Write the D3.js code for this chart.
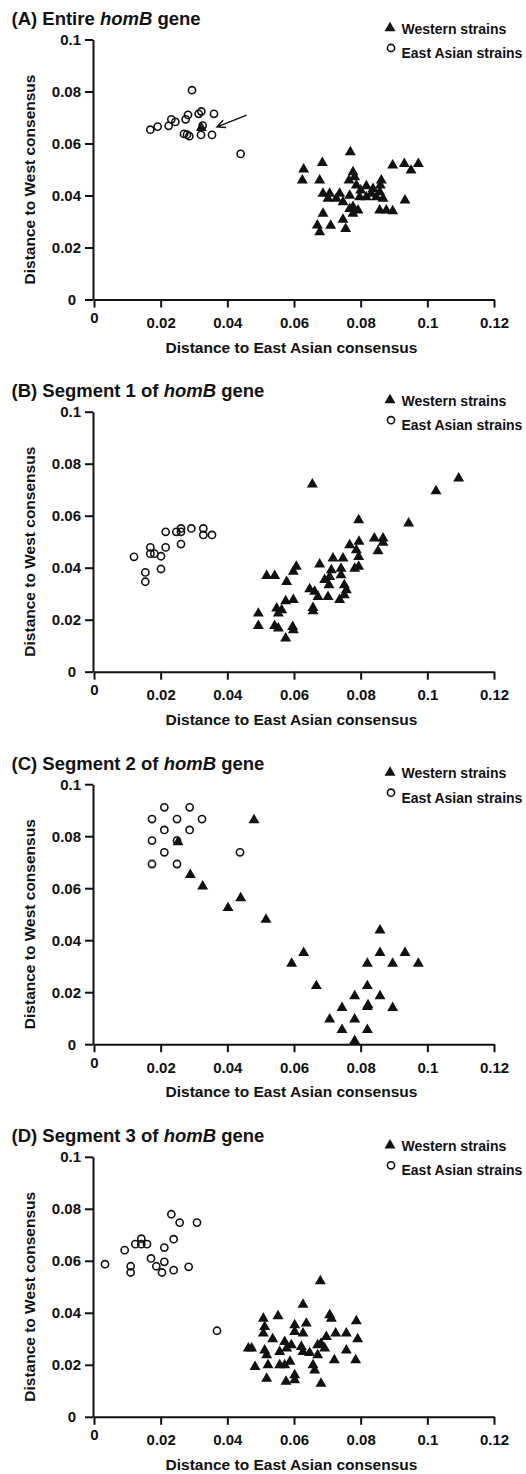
<!DOCTYPE html>
<html>
<head>
<meta charset="utf-8">
<script src="https://cdn.jsdelivr.net/npm/d3@7"></script>
<style>
  body { margin: 0; background: #fff; }
  svg { display: block; font-family: "Liberation Sans", Arial, sans-serif; }
</style>
</head>
<body>
<svg id="chart" width="526" height="1474"></svg>
<script>
// ---- data ----
const xTicks = [0, 0.02, 0.04, 0.06, 0.08, 0.1, 0.12];
const yTicks = [0, 0.02, 0.04, 0.06, 0.08, 0.1];
const panelLetters = ["(A)", "(B)", "(C)", "(D)"];
const panelTitles = ["Entire ", "Segment 1 of ", "Segment 2 of ", "Segment 3 of "];
const geneName = "homB";
const geneSuffix = " gene";
const legendLabels = ["Western strains", "East Asian strains"];
const xTitle = "Distance to East Asian consensus";
const yTitle = "Distance to West consensus";

// (A) entire gene
const eastA = [[0.0169,0.0653],[0.0191,0.0665],[0.0224,0.0668],[0.0232,0.0693],[0.0244,0.0683],
  [0.0275,0.0693],[0.0282,0.0710],[0.0294,0.0805],[0.0314,0.0714],[0.0322,0.0723],[0.0360,0.0714],
  [0.0270,0.0637],[0.0279,0.0634],[0.0286,0.0628],[0.0321,0.0633],[0.0326,0.0669],[0.0354,0.0633],
  [0.0440,0.0560]];
const westA = [[0.0322,0.0660],[0.0629,0.0501],[0.0625,0.0458],[0.0685,0.0526],[0.0677,0.0458],
  [0.0769,0.0567],[0.0777,0.0490],[0.0782,0.0471],[0.0765,0.0458],[0.0787,0.0439],[0.0817,0.0436],
  [0.0837,0.0426],[0.0857,0.0413],[0.0862,0.0458],[0.0859,0.0439],[0.0896,0.0516],[0.0931,0.0522],
  [0.0951,0.0497],[0.0973,0.0522],[0.0933,0.0381],[0.0687,0.0407],[0.0707,0.0407],[0.0702,0.0388],
  [0.0727,0.0388],[0.0737,0.0407],[0.0747,0.0375],[0.0767,0.0400],[0.0777,0.0356],[0.0777,0.0330],
  [0.0792,0.0343],[0.0797,0.0394],[0.0817,0.0394],[0.0847,0.0394],[0.0867,0.0388],[0.0857,0.0343],
  [0.0877,0.0343],[0.0896,0.0340],[0.0767,0.0349],[0.0687,0.0330],[0.0670,0.0285],[0.0677,0.0259],
  [0.0710,0.0284],[0.0747,0.0307],[0.0755,0.0272],[0.0832,0.0407],[0.0800,0.0420]];
const arrowA = [[0.0458,0.0709],[0.0369,0.0664]];

// (B) segment 1
const eastB = [[0.0120,0.0442],[0.0154,0.0382],[0.0154,0.0346],[0.0169,0.0478],[0.0169,0.0454],
  [0.0181,0.0454],[0.0201,0.0444],[0.0201,0.0395],[0.0215,0.0478],[0.0215,0.0538],[0.0247,0.0538],
  [0.0261,0.0551],[0.0261,0.0538],[0.0261,0.0491],[0.0292,0.0551],[0.0328,0.0551],[0.0328,0.0526],
  [0.0354,0.0526]];
const westB = [[0.0655,0.0721],[0.1094,0.0744],[0.1026,0.0695],[0.0944,0.0571],[0.0794,0.0583],
  [0.0841,0.0513],[0.0867,0.0513],[0.0867,0.0497],[0.0852,0.0464],[0.0795,0.0500],[0.0767,0.0487],
  [0.0787,0.0468],[0.0794,0.0442],[0.0794,0.0404],[0.0782,0.0397],[0.0747,0.0436],[0.0717,0.0436],
  [0.0677,0.0413],[0.0741,0.0397],[0.0712,0.0391],[0.0741,0.0372],[0.0707,0.0365],[0.0692,0.0353],
  [0.0751,0.0333],[0.0757,0.0314],[0.0751,0.0295],[0.0737,0.0276],[0.0705,0.0333],[0.0702,0.0288],
  [0.0672,0.0288],[0.0662,0.0308],[0.0647,0.0318],[0.0657,0.0246],[0.0657,0.0233],[0.0607,0.0404],
  [0.0598,0.0385],[0.0578,0.0346],[0.0518,0.0369],[0.0542,0.0369],[0.0598,0.0276],[0.0575,0.0272],
  [0.0548,0.0244],[0.0563,0.0237],[0.0553,0.0224],[0.0493,0.0224],[0.0493,0.0176],[0.0542,0.0176],
  [0.0553,0.0167],[0.0596,0.0173],[0.0598,0.0160],[0.0575,0.0128]];

// (C) segment 2
const eastC = [[0.0174,0.0866],[0.0174,0.0783],[0.0174,0.0693],[0.0211,0.0911],[0.0211,0.0824],
  [0.0211,0.0738],[0.0249,0.0866],[0.0249,0.0783],[0.0249,0.0693],[0.0287,0.0911],[0.0287,0.0824],
  [0.0324,0.0866],[0.0438,0.0738]];
const westC = [[0.0252,0.0777],[0.0480,0.0862],[0.0289,0.0651],[0.0326,0.0607],[0.0440,0.0562],
  [0.0402,0.0524],[0.0516,0.0479],[0.0593,0.0310],[0.0629,0.0351],[0.0667,0.0224],[0.0707,0.0096],
  [0.0744,0.0140],[0.0744,0.0055],[0.0782,0.0185],[0.0782,0.0096],[0.0782,0.0013],[0.0820,0.0310],
  [0.0820,0.0224],[0.0820,0.0144],[0.0820,0.0055],[0.0858,0.0438],[0.0858,0.0351],[0.0858,0.0185],
  [0.0896,0.0310],[0.0896,0.0140],[0.0933,0.0351],[0.0973,0.0310],[0.0822,0.0150]];

// (D) segment 3
const eastD = [[0.0033,0.0587],[0.0092,0.0641],[0.0110,0.0579],[0.0110,0.0555],[0.0124,0.0664],
  [0.0142,0.0685],[0.0142,0.0664],[0.0159,0.0664],[0.0171,0.0609],[0.0187,0.0579],[0.0204,0.0555],
  [0.0211,0.0596],[0.0211,0.0651],[0.0232,0.0779],[0.0239,0.0683],[0.0239,0.0564],[0.0257,0.0747],
  [0.0284,0.0577],[0.0309,0.0747],[0.0369,0.0331]];
const westD = [[0.0679,0.0522],[0.0627,0.0432],[0.0552,0.0387],[0.0508,0.0378],[0.0512,0.0346],
  [0.0508,0.0321],[0.0602,0.0353],[0.0602,0.0327],[0.0637,0.0359],[0.0627,0.0321],[0.0707,0.0391],
  [0.0712,0.0378],[0.0697,0.0308],[0.0725,0.0321],[0.0757,0.0321],[0.0787,0.0368],[0.0791,0.0299],
  [0.0757,0.0256],[0.0785,0.0218],[0.0721,0.0218],[0.0681,0.0128],[0.0473,0.0263],[0.0463,0.0263],
  [0.0483,0.0192],[0.0512,0.0256],[0.0518,0.0237],[0.0522,0.0199],[0.0518,0.0147],[0.0536,0.0299],
  [0.0557,0.0250],[0.0557,0.0199],[0.0572,0.0199],[0.0572,0.0288],[0.0578,0.0263],[0.0588,0.0212],
  [0.0576,0.0135],[0.0592,0.0276],[0.0602,0.0160],[0.0602,0.0141],[0.0622,0.0269],[0.0627,0.0250],
  [0.0647,0.0246],[0.0657,0.0199],[0.0662,0.0179],[0.0671,0.0276],[0.0681,0.0282],[0.0671,0.0237],
  [0.0692,0.0263]];

const panels = [
  {west: westA, east: eastA, arrow: arrowA},
  {west: westB, east: eastB},
  {west: westC, east: eastC},
  {west: westD, east: eastD}
];

// ---- layout ----
const svg = d3.select("#chart");
const tops = [39.5, 411.7, 784.2, 1156.8];
const plotH = 260;
const ink = "#111";

const x = d3.scaleLinear().domain([0, 0.12]).range([94, 494]);
const tri = d3.symbol().type(d3.symbolTriangle).size(52);

panels.forEach(function(p, i) {
  let top = tops[i];
  let y = d3.scaleLinear().domain([0, 0.1]).range([top + plotH, top]);
  let g = svg.append("g");

  // title
  let t = g.append("text")
    .attr("x", 11.5).attr("y", top - 14.5)
    .attr("font-size", 18.5).attr("font-weight", "bold").attr("fill", ink);
  t.append("tspan").text(panelLetters[i] + " " + panelTitles[i]);
  t.append("tspan").attr("font-style", "italic").text(geneName);
  t.append("tspan").text(geneSuffix);

  // x axis
  let xa = g.append("g")
    .attr("transform", "translate(0," + (top + plotH) + ")")
    .call(d3.axisBottom(x).tickValues(xTicks).tickFormat(String)
      .tickSize(8).tickSizeOuter(0).tickPadding(10));
  // y axis
  let ya = g.append("g")
    .attr("transform", "translate(93,0)")
    .call(d3.axisLeft(y).tickValues(yTicks).tickFormat(String)
      .tickSize(8).tickSizeOuter(0).tickPadding(4));

  [xa, ya].forEach(function(a) {
    a.select(".domain").attr("stroke", ink).attr("stroke-width", 2);
    a.selectAll(".tick line").attr("stroke", ink).attr("stroke-width", 2);
    a.selectAll(".tick text").attr("fill", ink)
      .attr("font-size", 15).attr("font-weight", "bold")
      .attr("font-family", "Liberation Sans, Arial, sans-serif");
  });
  // the zero labels sit a bit off in the original
  xa.selectAll(".tick text").filter(function(d) { return d === 0; }).attr("y", 13);
  ya.selectAll(".tick text").filter(function(d) { return d === 0; }).attr("x", -17);

  // axis titles
  g.append("text")
    .attr("x", 291.5).attr("y", top + plotH + 53)
    .attr("text-anchor", "middle")
    .attr("font-size", 15.5).attr("font-weight", "bold").attr("fill", ink)
    .text(xTitle);
  g.append("text")
    .attr("transform", "translate(34.5," + (top + 140) + ")rotate(-90)")
    .attr("text-anchor", "middle")
    .attr("font-size", 15.5).attr("font-weight", "bold").attr("fill", ink)
    .text(yTitle);

  // east asian strains (open circles)
  g.selectAll("circle.east")
    .data(p.east)
    .enter().append("circle")
      .classed("east", true)
      .attr("cx", function(d) { return x(d[0]); })
      .attr("cy", function(d) { return y(d[1]); })
      .attr("r", 3.6)
      .attr("fill", "none")
      .attr("stroke", ink)
      .attr("stroke-width", 1.6);

  // western strains (filled triangles)
  g.selectAll("path.west")
    .data(p.west)
    .enter().append("path")
      .classed("west", true)
      .attr("d", tri)
      .attr("transform", function(d) { return "translate(" + x(d[0]) + "," + y(d[1]) + ")"; })
      .attr("fill", ink);

  // arrow pointing to the odd western strain
  if (p.arrow) {
    let x1 = x(p.arrow[0][0]), y1 = y(p.arrow[0][1]);
    let x2 = x(p.arrow[1][0]), y2 = y(p.arrow[1][1]);
    let ang = Math.atan2(y1 - y2, x1 - x2);
    let hl = 9;
    g.append("path")
      .attr("d", "M" + x1 + "," + y1 + "L" + x2 + "," + y2 +
        "M" + (x2 + hl * Math.cos(ang + 0.45)) + "," + (y2 + hl * Math.sin(ang + 0.45)) +
        "L" + x2 + "," + y2 +
        "L" + (x2 + hl * Math.cos(ang - 0.45)) + "," + (y2 + hl * Math.sin(ang - 0.45)))
      .attr("fill", "none").attr("stroke", ink).attr("stroke-width", 1.5);
  }

  // legend
  g.append("path")
    .attr("d", tri)
    .attr("transform", "translate(390," + (top - 11.5) + ")")
    .attr("fill", ink);
  g.append("text")
    .attr("x", 401.5).attr("y", top - 6)
    .attr("font-size", 14).attr("font-weight", "bold").attr("fill", ink)
    .text(legendLabels[0]);
  g.append("circle")
    .attr("cx", 391).attr("cy", top + 8.5)
    .attr("r", 3.6)
    .attr("fill", "none").attr("stroke", ink).attr("stroke-width", 1.6);
  g.append("text")
    .attr("x", 401.5).attr("y", top + 18.5)
    .attr("font-size", 14).attr("font-weight", "bold").attr("fill", ink)
    .text(legendLabels[1]);
});
</script>
</body>
</html>
